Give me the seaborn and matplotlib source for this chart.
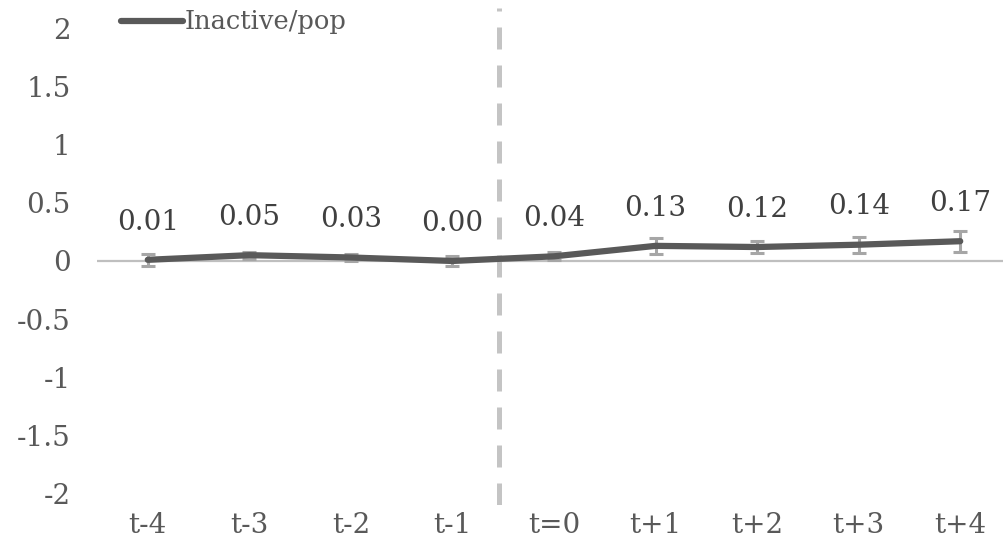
import matplotlib
matplotlib.use("Agg")
import matplotlib.pyplot as plt
import seaborn as sns
import pandas as pd

# Event-time periods and estimated effect on inactive share of population
periods = ["t-4", "t-3", "t-2", "t-1", "t=0", "t+1", "t+2", "t+3", "t+4"]
values = [0.01, 0.05, 0.03, 0.00, 0.04, 0.13, 0.12, 0.14, 0.17]
errors = [0.05, 0.03, 0.03, 0.04, 0.035, 0.07, 0.05, 0.07, 0.09]
y_ticks = [2, 1.5, 1, 0.5, 0, -0.5, -1, -1.5, -2]
series_name = "Inactive/pop"

sns.set_theme(style="white")
plt.rcParams["font.family"] = ["DejaVu Serif"]

df = pd.DataFrame({"period": periods, "value": values, "x": range(len(periods))})

W, H = 1004, 544
fig = plt.figure(figsize=(W / 100, H / 100), dpi=100)
ax = fig.add_axes([97 / W, 1 - 505 / H, (1011 - 97) / W, (505 - 8) / H])

ax.axhline(0, color="#bfbfbf", lw=1.6, zorder=1)
ax.axvline(3.46, color="#c4c4c4", lw=3.6, dashes=(4.4, 3.2), zorder=1)

ax.errorbar(df["x"], df["value"], yerr=errors, fmt="none", ecolor="#a6a6a6",
            elinewidth=2.2, capsize=5, capthick=2.2, zorder=2)
sns.lineplot(data=df, x="x", y="value", ax=ax, color="#595959", lw=4.5,
             label=series_name, zorder=3)

for xi, v in zip(df["x"], values):
    ax.annotate(f"{v:.2f}", (xi, v), xytext=(0, 17.5), textcoords="offset points",
                ha="center", va="bottom", fontsize=20, color="#404040")

ax.set_xlim(-0.5, 8.5)
ax.set_ylim(-2.099, 2.176)
ax.set_xticks(df["x"])
ax.set_xticklabels(periods)
ax.set_yticks(y_ticks)
ax.set_yticklabels([f"{t:g}" for t in y_ticks])
ax.tick_params(axis="x", length=0, pad=5, labelsize=20, labelcolor="#595959")
ax.tick_params(axis="y", length=0, pad=19, labelsize=20, labelcolor="#595959")
ax.set_xlabel("")
ax.set_ylabel("")
for s in ax.spines.values():
    s.set_visible(False)

leg = ax.legend(loc="center left", bbox_to_anchor=(116 / W, 1 - 22 / H),
                bbox_transform=fig.transFigure, frameon=False, fontsize=18.5,
                handlelength=2.4, handletextpad=0.08, borderaxespad=0,
                borderpad=0.2)
for t in leg.get_texts():
    t.set_color("#595959")

fig.savefig("out.png", dpi=100)
